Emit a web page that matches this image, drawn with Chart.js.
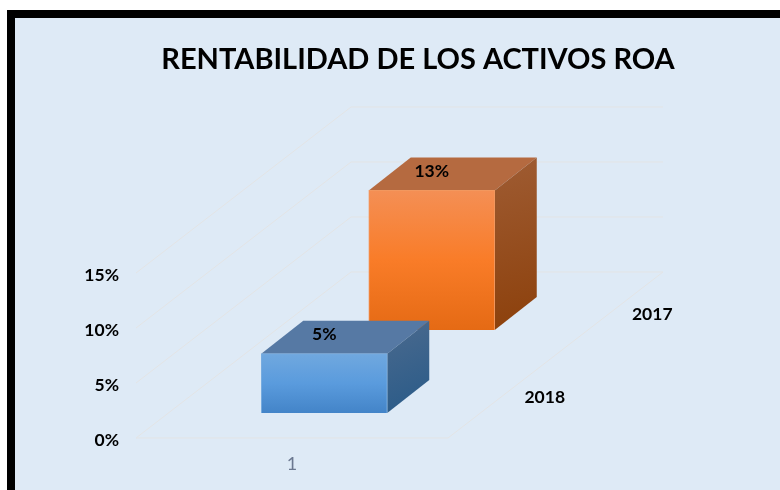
<!DOCTYPE html>
<html>
<head>
<meta charset="utf-8">
<style>
html,body{margin:0;padding:0;background:#fff;overflow:hidden}
#frame{position:absolute;left:7px;top:10px;width:773px;height:480px;box-sizing:border-box;background:#DEEAF6;border-left:8px solid #000;border-top:8px solid #000}
#c{position:absolute;left:0;top:0}
</style>
<script src="https://cdn.jsdelivr.net/npm/chart.js@4"></script>
</head>
<body>
<div id="frame"></div>
<canvas id="c" width="780" height="490"></canvas>
<script>
const titleText = 'RENTABILIDAD DE LOS ACTIVOS ROA';
const categories = ['1'];
const seriesNames = ['2018', '2017'];
const values2018 = [0.054];
const values2017 = [0.127];
const valueLabels2018 = ['5%'];
const valueLabels2017 = ['13%'];
const tickValues = [0, 0.05, 0.10, 0.15];

const FONT = 'Lato, "Open Sans", sans-serif';
const DEPTH_X = 215, DEPTH_Y = -166;          // full floor depth in pixels
const BAR_DX = 42, BAR_DY = -33;              // depth of one box
const depthStart = [0.15, 0.65];              // where each series' band starts
const depthLabelCentre = [0.25, 0.75];
const valueLabels = [valueLabels2018, valueLabels2017];

const faces = [
  {top:'#5679A4', sideA:'#4B6A8E', sideB:'#285A88', front:['#70A8DF','#5A9BDD','#4384C8'], edge:'#79ADE0'},
  {top:'#B56A40', sideA:'#9F5C33', sideB:'#8C400B', front:['#F48F55','#F97C28','#E56A14'], edge:'#F2985F'}
];

function frontGradient(ctx) {
  const chart = ctx.chart;
  const yS = chart.scales.y;
  const c = faces[ctx.datasetIndex].front;
  const v = ctx.dataset.data[ctx.dataIndex];
  const y0 = yS ? yS.getPixelForValue(v) : NaN;
  const y1 = yS ? yS.getPixelForValue(0) : NaN;
  if (!Number.isFinite(y0) || !Number.isFinite(y1)) return c[1];
  const g = chart.ctx.createLinearGradient(0, y0, 0, y1);
  g.addColorStop(0, c[0]); g.addColorStop(0.5, c[1]); g.addColorStop(1, c[2]);
  return g;
}

const box3d = {
  id: 'box3d',
  afterLayout(chart) {
    // the title sits centred above the whole plot including its depth
    chart.titleBlock.left = 56;
    chart.titleBlock.right = 780;
  },
  beforeDraw(chart) {
    // nudge the value-axis labels down onto the floor/wall lines
    chart.scales.y.getLabelItems(chart.chartArea).forEach(item => {
      item.options.translation = [item.options.translation[0], item.options.translation[1] + 2];
    });
  },
  beforeDatasetsDraw(chart) {
    const {ctx, chartArea: a, scales: {y}} = chart;
    ctx.save();
    ctx.strokeStyle = '#E3E4E5';
    ctx.lineWidth = 1;
    tickValues.forEach(v => {
      const p = y.getPixelForValue(v);
      ctx.beginPath();
      ctx.moveTo(a.left, p);
      ctx.lineTo(a.left + DEPTH_X, p + DEPTH_Y);
      ctx.lineTo(a.right + DEPTH_X, p + DEPTH_Y);
      ctx.stroke();
    });
    const p0 = y.getPixelForValue(0);
    ctx.beginPath();
    ctx.moveTo(a.left, p0);
    ctx.lineTo(a.right, p0);
    ctx.lineTo(a.right + DEPTH_X, p0 + DEPTH_Y);
    ctx.stroke();
    ctx.restore();
  },
  beforeDatasetDraw(chart, args) {
    const {ctx} = chart;
    const f = depthStart[args.index];
    const i = args.index;
    ctx.save();
    ctx.translate(DEPTH_X * f, DEPTH_Y * f);
    args.meta.data.forEach(el => {
      const l = el.x - el.width / 2, r = el.x + el.width / 2, t = el.y, b = el.base;
      ctx.fillStyle = faces[i].top;
      ctx.beginPath();
      ctx.moveTo(l, t); ctx.lineTo(l + BAR_DX, t + BAR_DY);
      ctx.lineTo(r + BAR_DX, t + BAR_DY); ctx.lineTo(r, t);
      ctx.closePath(); ctx.fill();
      const g = ctx.createLinearGradient(r, t + BAR_DY, r + BAR_DX, b);
      g.addColorStop(0, faces[i].sideA); g.addColorStop(1, faces[i].sideB);
      ctx.fillStyle = g;
      ctx.beginPath();
      ctx.moveTo(r, t); ctx.lineTo(r + BAR_DX, t + BAR_DY);
      ctx.lineTo(r + BAR_DX, b + BAR_DY); ctx.lineTo(r, b);
      ctx.closePath(); ctx.fill();
    });
  },
  afterDatasetDraw(chart, args) {
    const {ctx} = chart;
    args.meta.data.forEach((el, n) => {
      ctx.fillStyle = '#000';
      ctx.font = 'bold 17.5px ' + FONT;
      ctx.textAlign = 'center';
      ctx.textBaseline = 'middle';
      ctx.fillText(valueLabels[args.index][n], el.x, el.y - 19.5);
    });
    ctx.restore();
  },
  afterDatasetsDraw(chart) {
    const {ctx, chartArea: a, scales: {y}} = chart;
    const p0 = y.getPixelForValue(0);
    ctx.save();
    ctx.fillStyle = '#000';
    ctx.font = 'bold 17.5px ' + FONT;
    ctx.textAlign = 'center';
    ctx.textBaseline = 'middle';
    seriesNames.forEach((name, i) => {
      const f = depthLabelCentre[i];
      ctx.fillText(name, a.right + DEPTH_X * f + 43, p0 + DEPTH_Y * f + 1);
    });
    ctx.restore();
  }
};

new Chart(document.getElementById('c'), {
  type: 'bar',
  data: {
    labels: categories,
    datasets: [
      {label: seriesNames[0], data: values2018, clip: false, backgroundColor: frontGradient, borderColor: faces[0].edge, borderWidth: 1},
      {label: seriesNames[1], data: values2017, clip: false, backgroundColor: frontGradient, borderColor: faces[1].edge, borderWidth: 1}
    ]
  },
  options: {
    responsive: false,
    animation: false,
    layout: {padding: {left: 0, right: 332, top: 0, bottom: 12}},
    datasets: {bar: {grouped: false, barThickness: 126}},
    plugins: {
      legend: {display: false},
      tooltip: {enabled: false},
      title: {
        display: true,
        text: titleText,
        color: '#000',
        font: {family: FONT, size: 29, weight: 'bold', lineHeight: 1.2},
        padding: {top: 42, bottom: 196.2}
      }
    },
    scales: {
      x: {
        grid: {display: false},
        border: {display: false},
        afterFit(s) { s.height = 40; },
        ticks: {color: '#6B7890', font: {family: FONT, size: 18}, padding: 7, maxRotation: 0}
      },
      y: {
        min: 0,
        max: 0.15,
        afterFit(s) { s.width = 136; },
        afterBuildTicks(s) { s.ticks = tickValues.map(value => ({value})); },
        grid: {display: false},
        border: {display: false},
        ticks: {
          color: '#000',
          font: {family: FONT, size: 17.5, weight: 'bold'},
          padding: 9,
          callback: v => Math.round(v * 100) + '%'
        }
      }
    }
  },
  plugins: [box3d]
});
</script>
</body>
</html>
